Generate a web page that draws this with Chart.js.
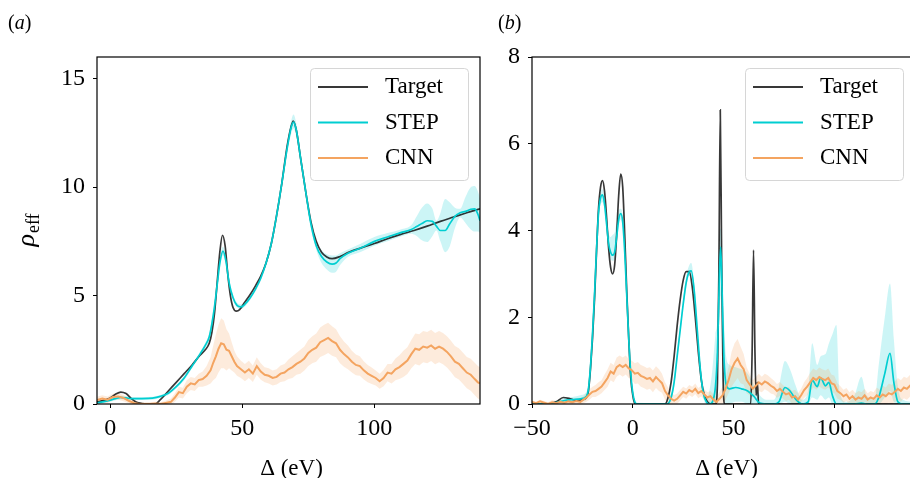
<!DOCTYPE html>
<html>
<head>
<meta charset="UTF-8" />
<title>Effective density: Target vs STEP vs CNN</title>
<style>
  html, body { margin: 0; padding: 0; background: #fff; overflow: hidden; }
  body { width: 910px; height: 478px; position: relative; }
  canvas { position: absolute; top: 0; }
  #panelA { left: 0; }
  #panelB { left: 480px; }
</style>
<script src="https://cdn.jsdelivr.net/npm/chart.js"></script>
</head>
<body>
<canvas id="panelA" width="482" height="478"></canvas>
<canvas id="panelB" width="450" height="478"></canvas>

<script>
// ---------- panel (a) ----------
const aXTicks = [0, 50, 100];
const aYTicks = [0, 5, 10, 15];

const aTargetX = [-5,-2,0,2,4,6,8,10,12,14,
  17,19,22,25,28,31,34,36,37.5,38.5,
  39.5,40.5,41.5,42.5,43.5,44.5,45.5,46.5,47.8,49,
  51,53,55,57,59,61,63,65,67,68.5,
  69.3,70.5,72,74,76,78,80,82,84,87,
  90,95,100,105,110,115,120,125,130,135,
  140];
const aTargetY = [0.10,0.18,0.28,0.45,0.55,0.48,0.25,0.08,0.02,0,
  0,0.2,0.6,1.0,1.4,1.8,2.25,2.5,2.8,3.3,
  4.2,5.6,7.0,7.78,7.3,6.0,5.0,4.45,4.28,4.35,
  4.7,5.05,5.45,5.9,6.5,7.4,8.7,10.2,11.9,12.8,
  13.05,12.6,11.4,9.8,8.4,7.5,7.0,6.78,6.7,6.8,
  6.98,7.2,7.4,7.62,7.82,8.0,8.2,8.42,8.62,8.82,
  9.0];

const aStepX = [-5,-2,0,2,4,6,8,12,16,19,
  22,25,28,31,34,36,37.5,38.5,39.5,40.5,
  41.5,42.7,43.8,45,46.5,48,49.5,51,53,55,
  57,59,61,63,65,67,68.5,69.4,70.5,72,
  74,76,78,80,82,84,85.5,87,90,95,
  100,105,110,114,116,118,120,122,123.5,125,
  126.8,128.5,130.5,132.5,134.5,136.5,138,139.2,140];
const aStepY = [0.05,0.12,0.18,0.25,0.3,0.28,0.25,0.25,0.27,0.35,
  0.5,0.8,1.2,1.75,2.3,2.7,3.1,3.7,4.5,5.5,
  6.5,7.05,6.6,5.6,4.9,4.55,4.48,4.6,4.9,5.3,
  5.8,6.5,7.4,8.7,10.2,11.8,12.75,13.0,12.6,11.4,
  9.8,8.3,7.3,6.8,6.55,6.45,6.5,6.7,6.95,7.2,
  7.5,7.7,7.9,8.05,8.18,8.32,8.45,8.42,8.2,8.0,
  8.0,8.3,8.65,8.82,8.88,8.98,9.0,8.75,8.45];
const aStepLo = [0,0.05,0.1,0.17,0.22,0.2,0.18,0.18,0.2,0.28,
  0.42,0.72,1.1,1.65,2.2,2.58,2.95,3.5,4.3,5.3,
  6.3,6.85,6.4,5.45,4.78,4.45,4.38,4.5,4.8,5.2,
  5.7,6.38,7.25,8.55,10.0,11.55,12.45,12.7,12.3,11.15,
  9.6,8.1,7.1,6.5,6.2,6.05,6.1,6.4,6.78,7.02,
  7.3,7.5,7.72,7.85,7.75,7.55,7.47,7.75,8.0,7.5,
  7.0,7.25,8.1,8.6,8.35,8.05,7.95,7.95,7.9];
const aStepHi = [0.12,0.2,0.26,0.33,0.38,0.36,0.32,0.32,0.34,0.42,
  0.58,0.88,1.3,1.85,2.4,2.82,3.25,3.9,4.7,5.75,
  6.75,7.25,6.8,5.8,5.05,4.68,4.6,4.72,5.0,5.4,
  5.9,6.62,7.55,8.85,10.4,12.05,13.05,13.35,12.9,11.65,
  10.0,8.5,7.55,7.1,6.9,6.85,6.85,6.95,7.12,7.4,
  7.7,7.88,8.05,8.25,8.65,9.05,9.25,9.0,8.45,8.8,
  9.45,9.3,9.05,9.0,9.55,10.0,10.05,9.8,9.5];

const aCnnX = [-5,-3,-1,1,3,5,7,9,11,13,
  15,17,19,21,23,24.5,26,27.5,29,30.5,
  32,33.5,35,36.5,38,39,40,41,42,43,
  44,45,46,47,48,49.5,51,52.5,54,55.5,
  57,58.5,60,61.5,63,64.5,66,67.5,69,70.5,
  72,73.5,75,76.5,78,79.5,81,82.5,84,85.5,
  87,88.5,90,91.5,93,94.5,96,97.5,99,100.5,
  102,103.5,105,106.5,108,109.5,111,112.5,114,115.5,
  117,118.5,120,121.5,123,124.5,126,127.5,129,130.5,
  132,133.5,135,136.5,138,139.2,140];
const aCnnY = [0.18,0.25,0.2,0.32,0.35,0.28,0.15,0.05,0,0,
  0,0.02,0,0.05,0.1,0.3,0.55,0.5,0.8,0.95,
  0.9,1.1,1.15,1.3,1.55,1.9,2.2,2.55,2.8,2.75,
  2.5,2.45,2.2,1.95,1.75,1.6,1.45,1.6,1.4,1.75,
  1.5,1.35,1.3,1.2,1.25,1.4,1.45,1.6,1.7,1.85,
  1.95,2.1,2.35,2.5,2.6,2.85,2.95,3.05,2.9,2.8,
  2.5,2.3,2.15,1.95,1.8,1.75,1.55,1.4,1.3,1.2,
  1.05,1.2,1.45,1.4,1.6,1.7,1.85,2.0,2.3,2.55,
  2.5,2.65,2.6,2.7,2.55,2.65,2.55,2.4,2.2,1.95,
  1.85,1.65,1.45,1.35,1.15,1.0,0.95];
const aCnnSpread = [0.15,0.15,0.15,0.15,0.15,0.15,0.12,0.1,0.08,0.08,
  0.08,0.08,0.08,0.1,0.15,0.2,0.25,0.25,0.3,0.3,
  0.3,0.3,0.35,0.45,0.6,0.8,1.0,1.1,1.15,1.1,
  0.95,0.8,0.65,0.5,0.45,0.4,0.4,0.4,0.38,0.4,
  0.38,0.35,0.35,0.35,0.35,0.38,0.4,0.45,0.5,0.5,
  0.55,0.55,0.6,0.62,0.65,0.68,0.7,0.7,0.68,0.65,
  0.62,0.58,0.55,0.5,0.48,0.45,0.42,0.4,0.38,0.35,
  0.35,0.38,0.4,0.45,0.5,0.55,0.6,0.62,0.65,0.7,
  0.72,0.72,0.72,0.72,0.72,0.72,0.72,0.72,0.72,0.72,
  0.72,0.72,0.72,0.74,0.75,0.75,0.75];

// ---------- panel (b) ----------
const bXTicks = [-50, 0, 50, 100];
const bYTicks = [0, 2, 4, 6, 8];

const bTargetX = [-50,-42,-38,-34.5,-31,-28,-25,-23,-22,-21,
  -20,-19,-18,-17,-16,-15,-14,-13,-12,-11,
  -10,-9,-8,-7,-6,-5,-4,-3,-2,-1,
  0,1,2,16,17.5,19,20.5,22,23.5,25,
  26.5,28,29.5,31,32.5,34,35.5,37,38.5,41.2,
  42,42.7,43.4,44.1,44.8,45.5,58.5,59.2,59.9,60.6,
  61.2,61.8,62.4,140];
const bTargetY = [0,0,0.05,0.15,0.12,0.08,0.1,0.15,0.3,0.8,
  1.5,2.4,3.5,4.5,5.0,5.15,4.9,4.3,3.6,3.15,
  3.0,3.2,3.9,4.8,5.3,5.0,3.9,2.6,1.5,0.6,
  0.2,0.02,0,0,0.15,0.5,1.1,1.8,2.4,2.85,
  3.05,3.05,2.7,2.0,1.2,0.55,0.2,0.05,0,0,
  0.5,3.0,6.78,3.2,0.6,0,0,1.2,3.55,1.2,
  0.2,0.5,0,0];

const bStepX = [-50,-42,-38,-34,-30,-26,-23,-22,-21,-20,
  -19,-18,-17,-16,-15,-14,-13,-12,-11,-10,
  -9,-8,-7,-6,-5,-4,-3,-2,-1,0,
  1,2,17,19,20.5,22,23.5,25,26.5,28,
  29,30.5,32,33.5,35,36.5,38,39.5,41,42,
  43,43.6,44.3,45.2,46.3,48,51,54,57,60,
  63,66,70,72.5,75.5,78,81,84,87,89,
  91.5,93.2,95.6,97.3,99,101,102.5,106,110,113.4,
  116,120,122,125,127.6,129.5,131.5,134,140];
const bStepY = [0,0,0.03,0.08,0.1,0.12,0.18,0.35,0.85,1.6,
  2.5,3.55,4.4,4.75,4.82,4.6,4.15,3.7,3.5,3.43,
  3.5,3.85,4.25,4.39,4.2,3.5,2.5,1.5,0.7,0.25,
  0.05,0,0,0.15,0.5,1.1,1.7,2.3,2.8,3.05,
  3.07,2.6,1.7,0.8,0.25,0.05,0,0.05,0.4,1.2,
  3.0,3.62,2.6,1.1,0.45,0.35,0.38,0.35,0.3,0.18,
  0.02,0,0,0.05,0.38,0.3,0.1,0,0.05,0.55,
  0.4,0.6,0.42,0.5,0.2,0,0,0,0,0.02,
  0,0,0.15,0.7,1.17,0.5,0.05,0,0];
const bStepLo = [0,0,0,0.03,0.05,0.06,0.1,0.25,0.7,1.45,
  2.35,3.4,4.25,4.6,4.65,4.45,4.0,3.55,3.35,3.3,
  3.35,3.7,4.1,4.25,4.05,3.35,2.35,1.38,0.6,0.18,
  0,0,0,0.05,0.4,1.0,1.6,2.2,2.7,2.95,
  2.95,2.5,1.6,0.7,0.15,0,0,0,0,0.3,
  2.0,2.5,1.5,0.3,0,0,0.05,0.05,0,0,
  0,0,0,0,0.05,0,0,0,0,0.15,
  0.1,0.2,0.1,0.15,0,0,0,0,0,0,
  0,0,0,0.15,0.3,0.05,0,0,0];
const bStepHi = [0.02,0.03,0.08,0.14,0.16,0.2,0.28,0.45,1.0,1.75,
  2.65,3.7,4.55,4.9,4.95,4.75,4.35,3.95,3.85,3.9,
  3.95,4.2,4.45,4.5,4.35,3.65,2.65,1.62,0.8,0.32,
  0.1,0.03,0.02,0.25,0.6,1.2,1.8,2.45,2.95,3.2,
  3.25,2.75,1.85,0.9,0.35,0.12,0.3,0.8,1.6,2.0,
  3.8,4.05,3.5,2.0,1.1,0.9,0.85,0.8,0.7,0.45,
  0.2,0.1,0.1,0.4,0.99,0.8,0.4,0.1,0.3,1.4,
  0.9,1.1,1.15,1.4,1.6,1.82,0.3,0.05,0.2,0.63,
  0.2,0.1,0.9,2.0,2.78,1.5,0.4,0.1,0.05];

const bCnnX = [-50,-48,-46,-44,-42,-40,-38,-36,-34,-32,
  -30,-28,-26,-24.5,-23,-21.5,-20,-18.5,-17,-15.5,
  -14,-12.5,-11,-9.5,-8,-6.5,-5,-3.5,-2,-0.5,
  1,2.5,4,5.5,7,8.5,10,11.5,13,14.5,
  16,17.5,19,20.5,22,23.5,25,26.5,28,29.5,
  31,32.5,34,35.5,37,38.5,40,41.5,43,44.5,
  46,47.5,49,50.5,52,53.5,55,56.5,58,59.5,
  61,62.5,64,65.5,67,68.5,70,71.5,73,74.5,
  76,77.5,79,80.5,82,83.5,85,86.5,88,89.5,
  91,92.5,94,95.5,97,98.5,100,101.5,103,104.5,
  106,107.5,109,110.5,112,113.5,115,116.5,118,119.5,
  121,122.5,124,125.5,127,128.5,130,131.5,133,134.5,
  136,137.5,139,140];
const bCnnY = [0.05,0.02,0.06,0.03,0,0.04,0.02,0.05,0.03,0.06,
  0.04,0.07,0.05,0.1,0.15,0.22,0.28,0.3,0.35,0.4,
  0.5,0.6,0.75,0.7,0.85,0.9,0.85,0.9,0.82,0.78,
  0.7,0.72,0.65,0.62,0.58,0.6,0.52,0.62,0.55,0.48,
  0.3,0.2,0.12,0.08,0.12,0.2,0.28,0.24,0.32,0.28,
  0.35,0.25,0.3,0.22,0.15,0.18,0.1,0.05,0.12,0.2,
  0.35,0.55,0.8,0.95,1.05,0.9,0.8,0.55,0.45,0.35,
  0.42,0.5,0.45,0.52,0.48,0.42,0.38,0.3,0.35,0.28,
  0.22,0.25,0.15,0.18,0.1,0.2,0.32,0.4,0.5,0.6,
  0.55,0.62,0.58,0.55,0.6,0.48,0.45,0.3,0.25,0.18,
  0.22,0.12,0.18,0.1,0.15,0.12,0.2,0.1,0.15,0.12,
  0.2,0.15,0.22,0.18,0.25,0.22,0.28,0.35,0.3,0.38,
  0.35,0.42,0.38,0.45];
const bCnnSpread = [0.03,0.03,0.04,0.04,0.04,0.05,0.05,0.05,0.05,0.06,
  0.06,0.06,0.07,0.08,0.1,0.12,0.12,0.14,0.15,0.15,
  0.18,0.2,0.2,0.2,0.22,0.22,0.22,0.22,0.22,0.22,
  0.24,0.25,0.25,0.25,0.25,0.25,0.25,0.25,0.25,0.22,
  0.2,0.18,0.15,0.12,0.12,0.12,0.12,0.12,0.12,0.12,
  0.12,0.12,0.12,0.12,0.12,0.12,0.12,0.12,0.15,0.2,
  0.25,0.3,0.4,0.45,0.45,0.42,0.35,0.3,0.25,0.2,
  0.2,0.2,0.18,0.18,0.18,0.18,0.16,0.16,0.16,0.16,
  0.15,0.15,0.15,0.15,0.15,0.15,0.18,0.2,0.22,0.22,
  0.22,0.22,0.22,0.22,0.22,0.2,0.2,0.18,0.16,0.15,
  0.15,0.15,0.15,0.15,0.15,0.15,0.15,0.15,0.15,0.15,
  0.18,0.18,0.2,0.2,0.22,0.22,0.24,0.25,0.25,0.25,
  0.25,0.25,0.25,0.25];

const seriesNames = ["Target", "STEP", "CNN"];
const COLORS = {
  target: "rgba(0,0,0,0.78)",
  step: "#00CED1",
  cnn: "#F4A460",
  stepBand: "rgba(0,206,209,0.2)",
  cnnBand: "rgba(244,164,96,0.22)"
};
const SERIF = "'Liberation Serif', 'Times New Roman', serif";

function pts(xs, ys) {
  return xs.map((x, i) => ({ x: x, y: ys[i] }));
}

function fmtTick(v) {
  return v < 0 ? "\u2212" + Math.abs(v) : String(v);
}

// frame (all four spines)
const framePlugin = {
  id: "frame",
  afterDraw(chart) {
    const { ctx, chartArea: a } = chart;
    ctx.save();
    ctx.strokeStyle = "#000";
    ctx.lineWidth = 1.2;
    ctx.strokeRect(a.left, a.top, a.right - a.left, a.bottom - a.top);
    ctx.restore();
  }
};

// matplotlib-like framed legend in the top right corner
const boxLegend = {
  id: "boxLegend",
  afterDraw(chart) {
    const { ctx, chartArea: a } = chart;
    const w = 158, h = 112;
    const left = a.right - 12 - w, top = a.top + 11;
    ctx.save();
    ctx.beginPath();
    ctx.roundRect(left + 0.5, top + 0.5, w, h, 4);
    ctx.fillStyle = "rgba(255,255,255,0.8)";
    ctx.fill();
    ctx.strokeStyle = "#d6d6d6";
    ctx.lineWidth = 1;
    ctx.stroke();
    const cols = [COLORS.target, COLORS.step, COLORS.cnn];
    ctx.font = "23px " + SERIF;
    ctx.textBaseline = "middle";
    ctx.fillStyle = "#000";
    seriesNames.forEach((name, i) => {
      const y = top + 19 + i * 35.5;
      ctx.beginPath();
      ctx.moveTo(left + 8, y);
      ctx.lineTo(left + 58, y);
      ctx.strokeStyle = cols[i];
      ctx.lineWidth = 1.8;
      ctx.stroke();
      ctx.fillText(name, left + 75, y);
    });
    ctx.restore();
  }
};

// panel tag, x title and y title
const labelPlugin = {
  id: "labels",
  afterDraw(chart, args, opts) {
    const { ctx, chartArea: a } = chart;
    ctx.save();
    ctx.fillStyle = "#000";
    ctx.textBaseline = "alphabetic";
    // panel tag like (a)
    let x = opts.tagX;
    ctx.font = "20px " + SERIF;
    ctx.fillText("(", x, 29); x += ctx.measureText("(").width;
    ctx.font = "italic 20px " + SERIF;
    ctx.fillText(opts.tag, x, 29); x += ctx.measureText(opts.tag).width;
    ctx.font = "20px " + SERIF;
    ctx.fillText(")", x, 29);
    // x title
    ctx.font = "23px " + SERIF;
    ctx.textAlign = "center";
    ctx.fillText("\u0394 (eV)", (a.left + a.right) / 2 + 3, 475);
    // y title rho_eff
    if (opts.yTitle) {
      ctx.textAlign = "left";
      ctx.translate(34, (a.top + a.bottom) / 2);
      ctx.rotate(-Math.PI / 2);
      ctx.font = "italic 26px " + SERIF;
      const wr = ctx.measureText("\u03C1").width;
      ctx.font = "18px " + SERIF;
      const we = ctx.measureText("eff").width;
      const x0 = -(wr + we) / 2;
      ctx.font = "italic 26px " + SERIF;
      ctx.fillText("\u03C1", x0, 0);
      ctx.font = "18px " + SERIF;
      ctx.fillText("eff", x0 + wr + 1, 5);
    }
    ctx.restore();
  }
};

function band(xs, ys, color, fill, order, mode) {
  return {
    data: pts(xs, ys),
    borderWidth: 0,
    pointRadius: 0,
    backgroundColor: color,
    borderColor: "rgba(0,0,0,0)",
    fill: fill,
    order: order,
    cubicInterpolationMode: mode || "default",
    tension: 0
  };
}

function line(label, xs, ys, color, order, smooth) {
  return {
    label: label,
    data: pts(xs, ys),
    borderColor: color,
    borderWidth: smooth ? 1.7 : 2,
    pointRadius: 0,
    fill: false,
    order: order,
    cubicInterpolationMode: smooth ? "monotone" : "default",
    tension: 0
  };
}

function buildPanel(id, p) {
  const cnnLo = p.cnnY.map((y, i) => y - p.cnnS[i]);
  const cnnHi = p.cnnY.map((y, i) => y + p.cnnS[i]);
  const tickFont = { family: SERIF, size: 24 };
  return new Chart(document.getElementById(id), {
    type: "line",
    data: {
      datasets: [
        band(p.stepX, p.stepHi, COLORS.stepBand, "+1", 4, "monotone"),
        band(p.stepX, p.stepLo, COLORS.stepBand, false, 4, "monotone"),
        band(p.cnnX, cnnHi, COLORS.cnnBand, "+1", 3),
        band(p.cnnX, cnnLo, COLORS.cnnBand, false, 3),
        line(seriesNames[0], p.targetX, p.targetY, COLORS.target, 2, true),
        line(seriesNames[1], p.stepX, p.stepY, COLORS.step, 1, true),
        line(seriesNames[2], p.cnnX, p.cnnY, COLORS.cnn, 0, false)
      ]
    },
    options: {
      responsive: false,
      animation: false,
      events: [],
      layout: { padding: { left: 0, right: p.padRight, top: 57, bottom: 0 } },
      plugins: {
        legend: { display: false },
        tooltip: { enabled: false },
        labels: { tag: p.tag, tagX: p.tagX, yTitle: p.yTitle }
      },
      scales: {
        x: {
          type: "linear",
          min: p.xMin,
          max: p.xMax,
          afterBuildTicks: (s) => { s.ticks = p.xTicks.map(v => ({ value: v })); },
          afterFit: (s) => { s.height = 74; },
          ticks: { font: tickFont, color: "#000", padding: 6, maxRotation: 0, autoSkip: false, callback: fmtTick },
          grid: { drawOnChartArea: false, drawTicks: true, tickLength: 4, color: "#000", lineWidth: 1 },
          border: { display: false }
        },
        y: {
          type: "linear",
          min: p.yMin,
          max: p.yMax,
          afterBuildTicks: (s) => { s.ticks = p.yTicks.map(v => ({ value: v })); },
          afterFit: (s) => { s.width = p.yWidth; },
          ticks: { font: tickFont, color: "#000", padding: 8, autoSkip: false, callback: fmtTick },
          grid: { drawOnChartArea: false, drawTicks: true, tickLength: 4, color: "#000", lineWidth: 1 },
          border: { display: false }
        }
      }
    },
    plugins: [framePlugin, boxLegend, labelPlugin]
  });
}

buildPanel("panelA", {
  targetX: aTargetX, targetY: aTargetY,
  stepX: aStepX, stepY: aStepY, stepLo: aStepLo, stepHi: aStepHi,
  cnnX: aCnnX, cnnY: aCnnY, cnnS: aCnnSpread,
  xMin: -5, xMax: 140, yMin: 0, yMax: 16,
  xTicks: aXTicks, yTicks: aYTicks,
  yWidth: 97, padRight: 2, tag: "a", tagX: 8, yTitle: true
});

buildPanel("panelB", {
  targetX: bTargetX, targetY: bTargetY,
  stepX: bStepX, stepY: bStepY, stepLo: bStepLo, stepHi: bStepHi,
  cnnX: bCnnX, cnnY: bCnnY, cnnS: bCnnSpread,
  xMin: -50, xMax: 140, yMin: 0, yMax: 8,
  xTicks: bXTicks, yTicks: bYTicks,
  yWidth: 52, padRight: 15, tag: "b", tagX: 18, yTitle: false
});
</script>
</body>
</html>
